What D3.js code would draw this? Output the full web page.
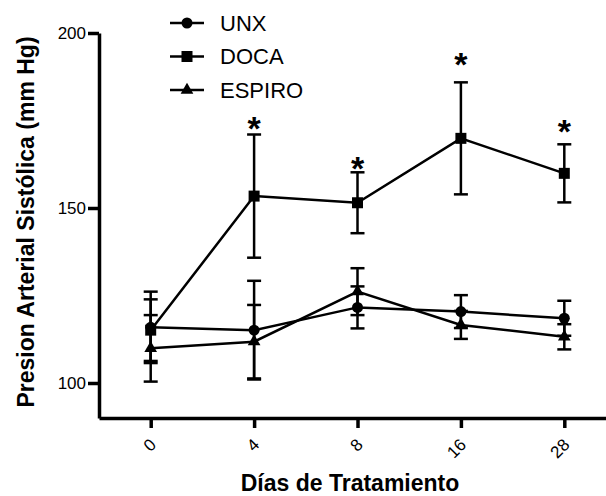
<!DOCTYPE html>
<html>
<head>
<meta charset="utf-8">
<script src="https://cdn.jsdelivr.net/npm/d3@7"></script>
<style>
  body { margin: 0; background: #fff; }
  text { font-family: "Liberation Sans", Arial, sans-serif; fill: #000; }
</style>
</head>
<body>
<div id="chart"></div>
<script>
// data
var days = ["0", "4", "8", "16", "28"];
var seriesNames = ["UNX", "DOCA", "ESPIRO"];
var unxMean = [115.9, 115.1, 121.6, 120.4, 118.5];
var unxErr = [10.2, 14.1, 6.0, 4.7, 5.0];
var docaMean = [115.1, 153.4, 151.5, 169.9, 159.9];
var docaErr = [8.8, 17.6, 8.7, 16.0, 8.3];
var espiroMean = [109.9, 111.8, 126.1, 116.6, 113.2];
var espiroErr = [9.5, 10.5, 6.7, 4.0, 3.6];
// where the significance stars sit (y value)
var starY = [null, 175.4, 164, 193.7, 174.6];
var yTicks = [100, 150, 200];

var svgWidth = 606;
var svgHeight = 496;

var svg = d3.select("#chart")
  .append("svg")
  .attr("width", svgWidth)
  .attr("height", svgHeight);

var x = d3.scalePoint()
  .domain(days)
  .range([99, 616])
  .padding(0.5);

var y = d3.scaleLinear()
  .domain([90, 200])
  .range([418, 33]);

// y axis
var yAxis = svg.append("g")
  .attr("transform", "translate(99,0)")
  .call(d3.axisLeft(y).tickValues(yTicks).tickSize(11).tickSizeOuter(0).tickPadding(2));
yAxis.select(".domain").attr("stroke-width", 3.5);
yAxis.selectAll(".tick line").attr("stroke-width", 3.5);
yAxis.selectAll(".tick text").attr("font-size", 17);

// x axis
var xAxis = svg.append("g")
  .attr("transform", "translate(0,418)")
  .call(d3.axisBottom(x).tickSize(10).tickSizeOuter(0));
xAxis.select(".domain").attr("stroke-width", 3.5);
xAxis.selectAll(".tick line").attr("stroke-width", 3.5);
xAxis.selectAll(".tick text")
  .attr("font-size", 17)
  .attr("x", 0)
  .attr("y", 0)
  .attr("dy", null)
  .attr("dominant-baseline", "central")
  .attr("text-anchor", "end")
  .attr("transform", "translate(2,24) rotate(-45)");

// axis titles
svg.append("text")
  .attr("x", 350)
  .attr("y", 491)
  .attr("text-anchor", "middle")
  .attr("font-size", 23)
  .attr("font-weight", "bold")
  .text("Días de Tratamiento");

svg.append("text")
  .attr("transform", "translate(34,222) rotate(-90)")
  .attr("text-anchor", "middle")
  .attr("font-size", 23)
  .attr("font-weight", "bold")
  .text("Presion Arterial Sistólica (mm Hg)");

var series = [
  {name: seriesNames[0], mean: unxMean, err: unxErr, symbol: d3.symbolCircle, size: 95},
  {name: seriesNames[1], mean: docaMean, err: docaErr, symbol: d3.symbolSquare, size: 121},
  {name: seriesNames[2], mean: espiroMean, err: espiroErr, symbol: d3.symbolTriangle, size: 70}
];

var line = d3.line()
  .x(d => x(d.day))
  .y(d => y(d.v));

series.forEach(function(s) {
  var pts = days.map((d, i) => ({day: d, v: s.mean[i], e: s.err[i]}));
  var g = svg.append("g");

  // error bars
  var eb = g.selectAll(".eb").data(pts).enter().append("g");
  eb.append("line")
    .attr("x1", d => x(d.day)).attr("x2", d => x(d.day))
    .attr("y1", d => y(d.v - d.e)).attr("y2", d => y(d.v + d.e))
    .attr("stroke", "#000").attr("stroke-width", 2.5);
  eb.append("line")
    .attr("x1", d => x(d.day) - 7).attr("x2", d => x(d.day) + 7)
    .attr("y1", d => y(d.v + d.e)).attr("y2", d => y(d.v + d.e))
    .attr("stroke", "#000").attr("stroke-width", 2.5);
  eb.append("line")
    .attr("x1", d => x(d.day) - 7).attr("x2", d => x(d.day) + 7)
    .attr("y1", d => y(d.v - d.e)).attr("y2", d => y(d.v - d.e))
    .attr("stroke", "#000").attr("stroke-width", 2.5);

  g.append("path")
    .datum(pts)
    .attr("fill", "none")
    .attr("stroke", "#000")
    .attr("stroke-width", 2.5)
    .attr("d", line);

  g.selectAll(".pt").data(pts).enter().append("path")
    .attr("transform", d => `translate(${x(d.day)},${y(d.v)})`)
    .attr("d", d3.symbol().type(s.symbol).size(s.size))
    .attr("fill", "#000");
});

// significance stars
svg.selectAll(".star")
  .data(days.map((d, i) => ({day: d, v: starY[i]})).filter(d => d.v != null))
  .enter().append("text")
  .attr("x", d => x(d.day))
  .attr("y", d => y(d.v) + 21)
  .attr("text-anchor", "middle")
  .attr("font-size", 34)
  .attr("font-weight", "bold")
  .text("*");

// legend
var legend = svg.append("g");
series.forEach(function(s, i) {
  var ly = 23 + i * 33.5;
  legend.append("line")
    .attr("x1", 170).attr("x2", 204)
    .attr("y1", ly).attr("y2", ly)
    .attr("stroke", "#000").attr("stroke-width", 2.5);
  legend.append("path")
    .attr("transform", `translate(187,${ly})`)
    .attr("d", d3.symbol().type(s.symbol).size(s.size))
    .attr("fill", "#000");
  legend.append("text")
    .attr("x", 220)
    .attr("y", ly)
    .attr("dy", "0.36em")
    .attr("font-size", 22)
    .text(s.name);
});
</script>
</body>
</html>
